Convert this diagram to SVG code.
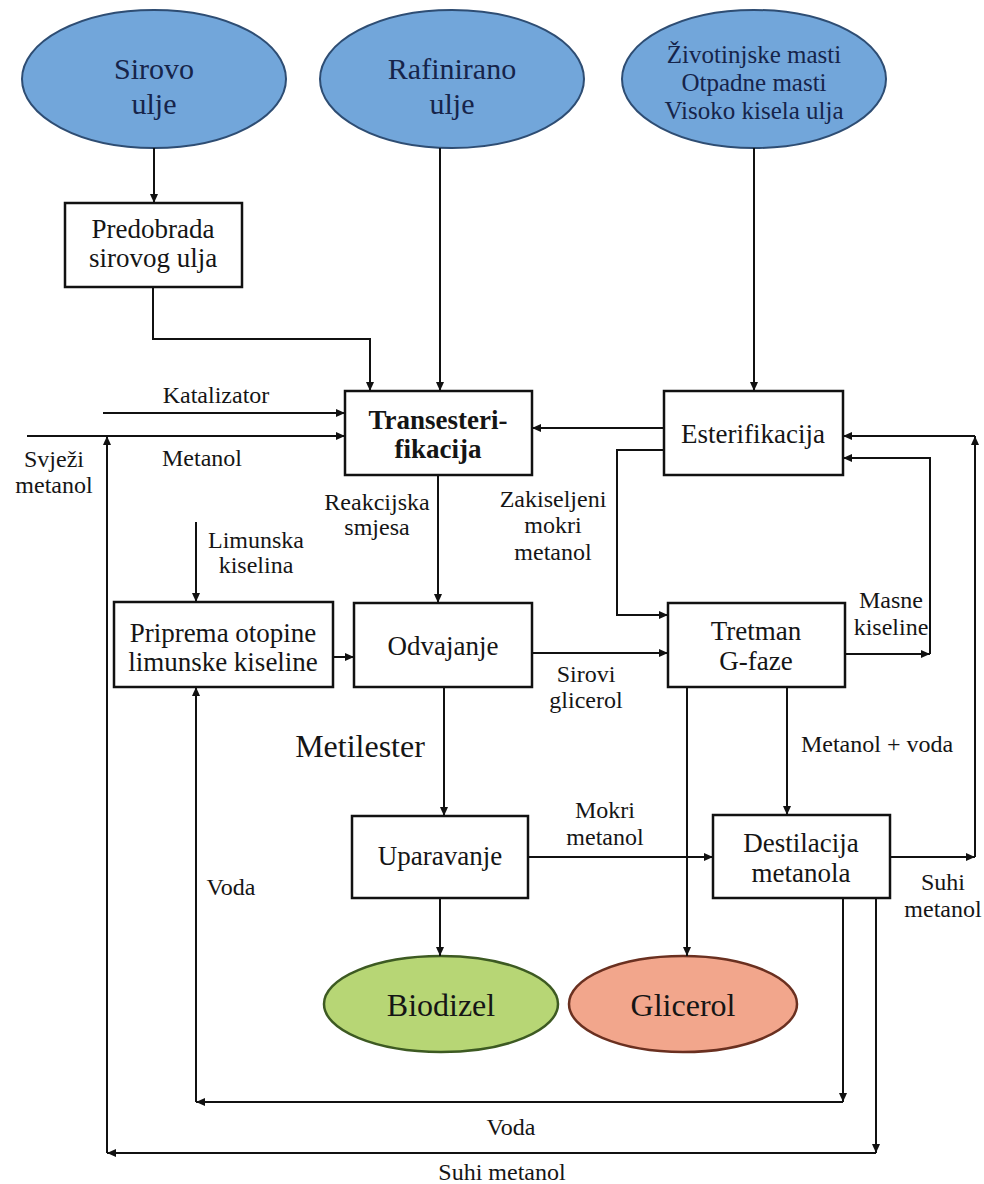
<svg xmlns="http://www.w3.org/2000/svg" width="984" height="1184" viewBox="0 0 984 1184">
<style>
.bg{fill:#ffffff}
.box{fill:#ffffff;stroke:#111;stroke-width:2.5}
.src{fill:#72a6da;stroke:#2e4d73;stroke-width:2}
.bio{fill:#b7d675;stroke:#3d5a22;stroke-width:2.5}
.gli{fill:#f2a68c;stroke:#6a3020;stroke-width:2.5}
.t{font-family:"Liberation Serif","Times New Roman",serif;fill:#151515;text-anchor:middle}
.bt{font-size:27px}
.lb{font-size:24px}
.st{font-size:30px;fill:#16244a}
.st3{font-size:25px;fill:#16244a}
.c line,.c polyline{fill:none;stroke:#111;stroke-width:2}
</style>
<defs>
<marker id="ah" markerUnits="userSpaceOnUse" markerWidth="9" markerHeight="8" refX="9" refY="4" orient="auto">
<path d="M0,0 L9,4 L0,8 z" fill="#111"/>
</marker>
</defs>
<rect class="bg" x="0" y="0" width="984" height="1184"/>

<g id="sirovo-ulje">
<ellipse class="src" cx="154" cy="79" rx="132" ry="69"/>
<text class="t st" x="154" y="79">Sirovo</text>
<text class="t st" x="154" y="114">ulje</text>
</g>
<g id="rafinirano-ulje">
<ellipse class="src" cx="452" cy="79" rx="132" ry="69"/>
<text class="t st" x="452" y="79">Rafinirano</text>
<text class="t st" x="452" y="114">ulje</text>
</g>
<g id="masti">
<ellipse class="src" cx="754" cy="79" rx="132" ry="69"/>
<text class="t st3" x="754" y="63">Životinjske masti</text>
<text class="t st3" x="754" y="91">Otpadne masti</text>
<text class="t st3" x="754" y="119">Visoko kisela ulja</text>
</g>

<g id="predobrada">
<rect class="box" x="65" y="203" width="177" height="84"/>
<text class="t bt" x="153" y="238">Predobrada</text>
<text class="t bt" x="153" y="267">sirovog ulja</text>
</g>
<g id="transesterifikacija">
<rect class="box" x="345" y="391" width="187" height="84"/>
<text class="t bt" x="438" y="429" font-weight="bold">Transesteri-</text>
<text class="t bt" x="438" y="458" font-weight="bold">fikacija</text>
</g>
<g id="esterifikacija">
<rect class="box" x="664" y="391" width="179" height="84"/>
<text class="t bt" x="753" y="443">Esterifikacija</text>
</g>
<g id="priprema">
<rect class="box" x="114" y="602" width="219" height="85"/>
<text class="t bt" x="223" y="642">Priprema otopine</text>
<text class="t bt" x="223" y="671">limunske kiseline</text>
</g>
<g id="odvajanje">
<rect class="box" x="354" y="603" width="178" height="84"/>
<text class="t bt" x="443" y="655">Odvajanje</text>
</g>
<g id="tretman">
<rect class="box" x="668" y="603" width="177" height="84"/>
<text class="t bt" x="756" y="640">Tretman</text>
<text class="t bt" x="756" y="670">G-faze</text>
</g>
<g id="uparavanje">
<rect class="box" x="352" y="816" width="176" height="82"/>
<text class="t bt" x="440" y="865">Uparavanje</text>
</g>
<g id="destilacija">
<rect class="box" x="713" y="815" width="177" height="83"/>
<text class="t bt" x="801" y="852">Destilacija</text>
<text class="t bt" x="801" y="882">metanola</text>
</g>
<g id="biodizel">
<ellipse class="bio" cx="441" cy="1004" rx="117" ry="48"/>
<text class="t" x="441" y="1016" font-size="32" fill="#14300c">Biodizel</text>
</g>
<g id="glicerol">
<ellipse class="gli" cx="683" cy="1004" rx="114" ry="48"/>
<text class="t" x="683" y="1016" font-size="32" fill="#3a140a">Glicerol</text>
</g>

<g id="connectors" class="c">
<line x1="154" y1="148" x2="154" y2="203" marker-end="url(#ah)"/>
<polyline points="153,287 153,339 370,339 370,391" marker-end="url(#ah)"/>
<line x1="440" y1="148" x2="440" y2="391" marker-end="url(#ah)"/>
<line x1="754" y1="148" x2="754" y2="391" marker-end="url(#ah)"/>
<line x1="103" y1="413" x2="345" y2="413" marker-end="url(#ah)"/>
<line x1="27" y1="436" x2="345" y2="436" marker-end="url(#ah)"/>
<line x1="876" y1="898" x2="876" y2="1153" marker-end="url(#ah)"/>
<line x1="876" y1="1153" x2="107" y2="1153" marker-end="url(#ah)"/>
<line x1="107" y1="1153" x2="107" y2="436" marker-end="url(#ah)"/>
<line x1="664" y1="428" x2="532" y2="428" marker-end="url(#ah)"/>
<polyline points="664,450 617,450 617,615 668,615" marker-end="url(#ah)"/>
<line x1="438" y1="475" x2="438" y2="603" marker-end="url(#ah)"/>
<line x1="196" y1="522" x2="196" y2="602" marker-end="url(#ah)"/>
<line x1="333" y1="657" x2="354" y2="657" marker-end="url(#ah)"/>
<line x1="532" y1="653" x2="668" y2="653" marker-end="url(#ah)"/>
<line x1="845" y1="654" x2="930" y2="654" marker-end="url(#ah)"/>
<polyline points="930,654 930,458 843,458" marker-end="url(#ah)"/>
<line x1="444" y1="687" x2="444" y2="816" marker-end="url(#ah)"/>
<line x1="687" y1="687" x2="687" y2="956" marker-end="url(#ah)"/>
<line x1="787" y1="687" x2="787" y2="815" marker-end="url(#ah)"/>
<line x1="528" y1="857" x2="713" y2="857" marker-end="url(#ah)"/>
<line x1="890" y1="857" x2="975" y2="857" marker-end="url(#ah)"/>
<line x1="975" y1="857" x2="975" y2="436" marker-end="url(#ah)"/>
<line x1="975" y1="436" x2="843" y2="436" marker-end="url(#ah)"/>
<line x1="440" y1="898" x2="440" y2="956" marker-end="url(#ah)"/>
<line x1="843" y1="898" x2="843" y2="1102" marker-end="url(#ah)"/>
<line x1="843" y1="1102" x2="196" y2="1102" marker-end="url(#ah)"/>
<line x1="196" y1="1102" x2="196" y2="687" marker-end="url(#ah)"/>
</g>

<g id="labels">
<text class="t lb" x="216" y="403">Katalizator</text>
<text class="t lb" x="202" y="466">Metanol</text>
<text class="t lb" x="54" y="467">Svježi</text>
<text class="t lb" x="54" y="493">metanol</text>
<text class="t lb" x="377" y="510">Reakcijska</text>
<text class="t lb" x="377" y="535">smjesa</text>
<text class="t lb" x="553" y="507">Zakiseljeni</text>
<text class="t lb" x="553" y="533">mokri</text>
<text class="t lb" x="553" y="560">metanol</text>
<text class="t lb" x="256" y="548">Limunska</text>
<text class="t lb" x="256" y="573">kiselina</text>
<text class="t lb" x="891" y="608">Masne</text>
<text class="t lb" x="891" y="635">kiseline</text>
<text class="t lb" x="586" y="682">Sirovi</text>
<text class="t lb" x="586" y="708">glicerol</text>
<text class="t" x="360" y="757" font-size="32">Metilester</text>
<text class="t lb" x="605" y="818">Mokri</text>
<text class="t lb" x="605" y="845">metanol</text>
<text class="t lb" x="877" y="752">Metanol + voda</text>
<text class="t lb" x="943" y="890">Suhi</text>
<text class="t lb" x="943" y="917">metanol</text>
<text class="t lb" x="231" y="895">Voda</text>
<text class="t lb" x="511" y="1135">Voda</text>
<text class="t lb" x="502" y="1180">Suhi metanol</text>
</g>
</svg>
